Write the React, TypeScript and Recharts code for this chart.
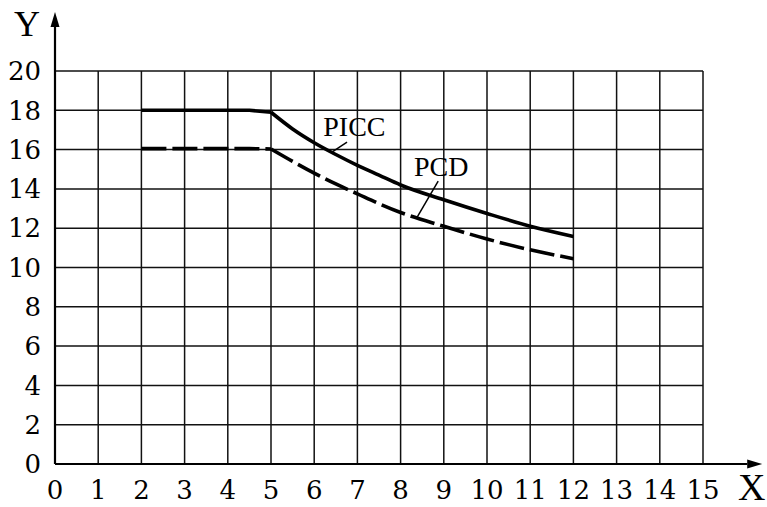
import React from "react"
import { LineChart, Line, XAxis, YAxis, CartesianGrid, ReferenceLine, ReferenceDot } from "recharts"

// values
const xValues = [2, 3, 4, 4.5, 5, 5.5, 6, 6.5, 7, 7.5, 8, 9, 10, 11, 12]
const piccValues = [18, 18, 18, 18, 17.9, 17.05, 16.35, 15.75, 15.2, 14.7, 14.2, 13.45, 12.75, 12.1, 11.58]
const pcdValues = [16.05, 16.05, 16.05, 16.05, 16.03, 15.4, 14.8, 14.25, 13.75, 13.25, 12.8, 12.1, 11.45, 10.9, 10.45]

const xTicks = [0, 1, 2, 3, 4, 5, 6, 7, 8, 9, 10, 11, 12, 13, 14, 15]
const yTicks = [0, 2, 4, 6, 8, 10, 12, 14, 16, 18, 20]

// the curves bend sharply at x = 5: flat part drawn straight, falling part smoothed
const bendX = 5

const data = xValues.map((x, i) => ({
  x,
  piccFlat: x <= bendX ? piccValues[i] : null,
  piccFall: x >= bendX ? piccValues[i] : null,
  pcdFlat: x <= bendX ? pcdValues[i] : null,
  pcdFall: x >= bendX ? pcdValues[i] : null,
}))

const tickFont = { fontFamily: "DejaVu Serif", fontSize: 26, fill: "#000" }
const labelFont = "Liberation Serif"

// axis line ending in a filled arrow head
const ArrowLine = (p: any) => {
  const { x1, y1, x2, y2 } = p
  const ang = Math.atan2(y2 - y1, x2 - x1)
  const len = 15
  const half = 4.5
  const bx = x2 - len * Math.cos(ang)
  const by = y2 - len * Math.sin(ang)
  const nx = -Math.sin(ang) * half
  const ny = Math.cos(ang) * half
  return (
    <g>
      <line x1={x1} y1={y1} x2={bx} y2={by} stroke="#000" strokeWidth={2.2} />
      <polygon points={`${x2},${y2} ${bx + nx},${by + ny} ${bx - nx},${by - ny}`} fill="#000" />
    </g>
  )
}

const textShape = (label: string, size: number) => (p: any) => (
  <text x={p.cx} y={p.cy} textAnchor="middle" fontFamily={labelFont} fontSize={size} fill="#000">
    {label}
  </text>
)

export default function App() {
  return (
    <div style={{ position: "absolute", left: 0, top: 0, background: "#fff" }}>
      <LineChart width={767} height={507} data={data} margin={{ top: 71, right: 64, bottom: 0, left: 15 }}>
        <CartesianGrid stroke="#111" strokeWidth={1.5} />
        <XAxis
          dataKey="x"
          type="number"
          domain={[0, 15]}
          ticks={xTicks}
          interval={0}
          height={43}
          axisLine={false}
          tickLine={false}
          tickSize={0}
          tickMargin={17}
          tick={tickFont}
        />
        <YAxis
          type="number"
          domain={[0, 20]}
          ticks={yTicks}
          interval={0}
          width={40}
          axisLine={false}
          tickLine={false}
          tickSize={0}
          tickMargin={14}
          tick={tickFont}
        />

        <ReferenceLine segment={[{ x: 0, y: 0 }, { x: 0, y: 23 }]} ifOverflow="visible" shape={ArrowLine} />
        <ReferenceLine segment={[{ x: 0, y: 0 }, { x: 16.37, y: 0 }]} ifOverflow="visible" shape={ArrowLine} />

        {/* PICC - solid */}
        <Line type="linear" dataKey="piccFlat" stroke="#000" strokeWidth={3.6} strokeLinejoin="round" dot={false} isAnimationActive={false} />
        <Line type="monotone" dataKey="piccFall" stroke="#000" strokeWidth={3.6} strokeLinejoin="round" dot={false} isAnimationActive={false} />

        {/* PCD - dashed */}
        <Line
          type="linear"
          dataKey="pcdFlat"
          stroke="#000"
          strokeWidth={3.6}
          strokeDasharray="25 6"
          dot={false}
          isAnimationActive={false}
        />
        <Line
          type="monotone"
          dataKey="pcdFall"
          stroke="#000"
          strokeWidth={3.6}
          strokeDasharray="25 6"
          dot={false}
          isAnimationActive={false}
        />

        {/* leader lines for the curve names */}
        <ReferenceLine segment={[{ x: 6.76, y: 16.38 }, { x: 6.41, y: 15.87 }]} ifOverflow="visible" stroke="#000" strokeWidth={1.5} />
        <ReferenceLine segment={[{ x: 8.87, y: 14.39 }, { x: 8.38, y: 12.55 }]} ifOverflow="visible" stroke="#000" strokeWidth={1.5} />

        <ReferenceDot x={6.93} y={16.68} r={0} ifOverflow="visible" shape={textShape("PICC", 28)} />
        <ReferenceDot x={8.94} y={14.64} r={0} ifOverflow="visible" shape={textShape("PCD", 28)} />

        <ReferenceDot x={-0.65} y={21.8} r={0} ifOverflow="visible" shape={textShape("Y", 36)} />
        <ReferenceDot x={16.13} y={-1.84} r={0} ifOverflow="visible" shape={textShape("X", 38)} />
      </LineChart>
    </div>
  )
}
